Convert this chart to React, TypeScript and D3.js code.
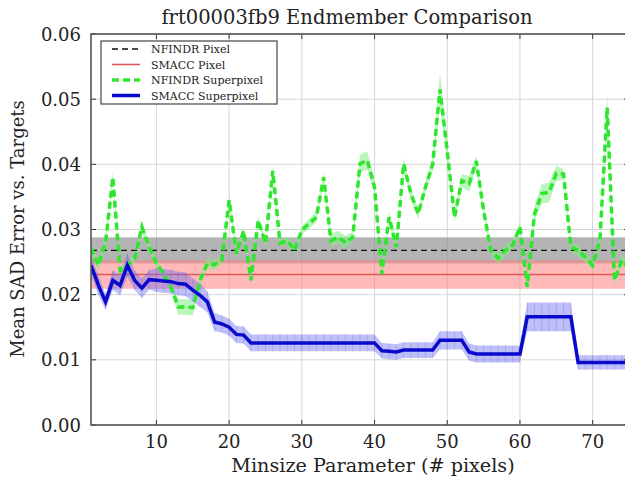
import React from 'react'
import { scaleLinear, line, area, range, format } from 'd3'

// minsize parameter 1..75
const minsize = range(1, 76)

// NFINDR superpixel mean SAD and spread
const nfindrSuper = [
  0.0272, 0.0245, 0.028, 0.038, 0.0237, 0.0245, 0.0255, 0.0304, 0.0273, 0.0248,
  0.0232, 0.0212, 0.0181, 0.0181, 0.018, 0.0222, 0.0248, 0.0246, 0.0253, 0.0345,
  0.0263, 0.0298, 0.0222, 0.0314, 0.0279, 0.039, 0.0279, 0.0283, 0.0268, 0.0299,
  0.0309, 0.0319, 0.038, 0.0283, 0.0288, 0.028, 0.0288, 0.0401, 0.0406, 0.0365,
  0.0232, 0.0319, 0.0273, 0.0401, 0.0355, 0.0324, 0.0365, 0.04, 0.0515, 0.042,
  0.0319, 0.0375, 0.037, 0.0405, 0.0329, 0.0268, 0.0256, 0.0268, 0.0276, 0.0304,
  0.0212, 0.0324, 0.0355, 0.0357, 0.0386, 0.0385, 0.0273, 0.0268, 0.0258, 0.0245,
  0.0283, 0.0487, 0.0222, 0.0253, 0.024,
]
const nfindrSuperErr = [
  0.001, 0.0008, 0.0008, 0.0008, 0.0006, 0.0006, 0.0006, 0.0008, 0.0006, 0.0006,
  0.0006, 0.0006, 0.0012, 0.0012, 0.0012, 0.0008, 0.0008, 0.0008, 0.0006, 0.0008,
  0.0006, 0.0006, 0.0008, 0.0006, 0.0006, 0.0008, 0.0006, 0.0006, 0.0006, 0.0006,
  0.0008, 0.0008, 0.0008, 0.001, 0.001, 0.001, 0.0008, 0.0014, 0.0014, 0.001,
  0.0008, 0.0008, 0.0008, 0.0008, 0.0008, 0.0008, 0.0008, 0.001, 0.0025, 0.0015,
  0.0008, 0.001, 0.0012, 0.0008, 0.0008, 0.0008, 0.0008, 0.0008, 0.0008, 0.0008,
  0.0008, 0.0012, 0.0015, 0.0015, 0.0012, 0.0008, 0.0008, 0.0008, 0.0008, 0.0008,
  0.0008, 0.002, 0.0008, 0.0008, 0.0008,
]

// SMACC superpixel mean SAD and spread
const smaccSuper = [
  0.0245, 0.0215, 0.0189, 0.0222, 0.0214, 0.0245, 0.0222, 0.021, 0.0223, 0.0222,
  0.0221, 0.022, 0.0217, 0.0216, 0.0207, 0.0199, 0.0189, 0.0158, 0.0155, 0.015,
  0.0139, 0.0138, 0.0126, 0.0126, 0.0126, 0.0126, 0.0126, 0.0126, 0.0126, 0.0126,
  0.0126, 0.0126, 0.0126, 0.0126, 0.0126, 0.0126, 0.0126, 0.0126, 0.0126, 0.0126,
  0.0114, 0.0113, 0.0112, 0.0115, 0.0115, 0.0115, 0.0115, 0.0115, 0.013, 0.013,
  0.013, 0.013, 0.0112, 0.0109, 0.0109, 0.0109, 0.0109, 0.0109, 0.0109, 0.0109,
  0.0166, 0.0166, 0.0166, 0.0166, 0.0166, 0.0166, 0.0166, 0.0096, 0.0096, 0.0096,
  0.0096, 0.0096, 0.0096, 0.0096, 0.0096,
]
const smaccSuperErr = [
  0.0015, 0.0015, 0.0012, 0.0015, 0.0015, 0.0018, 0.0015, 0.0015, 0.0015, 0.0018,
  0.0018, 0.0018, 0.0018, 0.0018, 0.0018, 0.0018, 0.0016, 0.0014, 0.0013, 0.0013,
  0.0013, 0.0013, 0.0013, 0.0013, 0.0013, 0.0013, 0.0013, 0.0013, 0.0013, 0.0013,
  0.0013, 0.0013, 0.0013, 0.0013, 0.0013, 0.0013, 0.0013, 0.0013, 0.0013, 0.0013,
  0.0012, 0.0012, 0.0012, 0.0012, 0.0012, 0.0012, 0.0012, 0.0012, 0.0014, 0.0014,
  0.0014, 0.0014, 0.0013, 0.0013, 0.0013, 0.0013, 0.0013, 0.0013, 0.0013, 0.0013,
  0.0022, 0.0022, 0.0022, 0.0022, 0.0022, 0.0022, 0.0022, 0.0011, 0.0011, 0.0011,
  0.0011, 0.0011, 0.0011, 0.0011, 0.0011,
]

// pixel-level baselines
const nfindrPixel = { mean: 0.0268, err: 0.002 }
const smaccPixel = { mean: 0.0231, err: 0.0022 }

const xTicks = [10, 20, 30, 40, 50, 60, 70]
const yTicks = [0, 0.01, 0.02, 0.03, 0.04, 0.05, 0.06]
const legendLabels = ['NFINDR Pixel', 'SMACC Pixel', 'NFINDR Superpixel', 'SMACC Superpixel']

const W = 625, H = 478
const L = 91, T = 34, R = 629, B = 425
const FONT = '"DejaVu Serif", serif'

function App() {
  const x = scaleLinear().domain([1, 75]).range([L, R])
  const y = scaleLinear().domain([0, 0.06]).range([B, T])
  const fmt = format('.2f')

  const idx = minsize.map((_, i) => i)
  const bandOf = (m: number[], e: number[]) =>
    area<number>().x(i => x(minsize[i])).y0(i => y(m[i] - e[i])).y1(i => y(m[i] + e[i]))(idx) || ''
  const lineOf = (m: number[]) => line<number>().x(i => x(minsize[i])).y(i => y(m[i]))(idx) || ''

  const legendStyles = [
    { stroke: '#111', width: 1.3, dash: '6,4' },
    { stroke: '#e05a5a', width: 1.6, dash: undefined },
    { stroke: '#2ee62e', width: 3.5, dash: '7,4' },
    { stroke: '#0a0acc', width: 3.5, dash: undefined },
  ]

  return (
    <svg width={W} height={H} style={{ position: 'absolute', left: 0, top: 0, background: '#fff' }}>
      <defs>
        <clipPath id="plot">
          <rect x={L} y={T} width={R - L} height={B - T} />
        </clipPath>
      </defs>

      {/* grid */}
      {xTicks.map(t => (
        <line key={'gx' + t} x1={x(t)} x2={x(t)} y1={T} y2={B} stroke="#d6d6d6" strokeWidth={1} />
      ))}
      {yTicks.map(t => (
        <line key={'gy' + t} x1={L} x2={R} y1={y(t)} y2={y(t)} stroke="#d6d6d6" strokeWidth={1} />
      ))}

      <g clipPath="url(#plot)">
        {/* pixel baselines */}
        <rect x={L} width={R - L} y={y(nfindrPixel.mean + nfindrPixel.err)}
          height={y(nfindrPixel.mean - nfindrPixel.err) - y(nfindrPixel.mean + nfindrPixel.err)}
          fill="#8c8c8c" opacity={0.65} />
        <rect x={L} width={R - L} y={y(smaccPixel.mean + smaccPixel.err)}
          height={y(smaccPixel.mean - smaccPixel.err) - y(smaccPixel.mean + smaccPixel.err)}
          fill="#ff8080" opacity={0.55} />
        <line x1={L} x2={R} y1={y(smaccPixel.mean)} y2={y(smaccPixel.mean)} stroke="#e05a5a" strokeWidth={1.6} />

        {/* superpixel bands */}
        <path d={bandOf(nfindrSuper, nfindrSuperErr)} fill="#7fee7f" opacity={0.55} />
        <path d={bandOf(smaccSuper, smaccSuperErr)} fill="#6a6aee" opacity={0.42} />
        {idx.map(i => (
          <line key={'bs' + i} x1={x(minsize[i])} x2={x(minsize[i])}
            y1={y(smaccSuper[i] - smaccSuperErr[i])} y2={y(smaccSuper[i] + smaccSuperErr[i])}
            stroke="#5a5ae0" strokeWidth={1} opacity={0.25} />
        ))}

        <line x1={L} x2={R} y1={y(nfindrPixel.mean)} y2={y(nfindrPixel.mean)}
          stroke="#111" strokeWidth={1.3} strokeDasharray="6,4" />

        <path d={lineOf(nfindrSuper)} fill="none" stroke="#2ee62e" strokeWidth={3.5} strokeDasharray="7,4" />
        <path d={lineOf(smaccSuper)} fill="none" stroke="#0a0acc" strokeWidth={3.5} strokeLinejoin="miter" />
      </g>

      {/* ticks */}
      {xTicks.map(t => (
        <g key={'tx' + t}>
          <line x1={x(t)} x2={x(t)} y1={B} y2={B - 5} stroke="#333" />
          <line x1={x(t)} x2={x(t)} y1={T} y2={T + 5} stroke="#333" />
          <text x={x(t)} y={448} textAnchor="middle" fontFamily={FONT} fontSize={18} fill="#222">{t}</text>
        </g>
      ))}
      {yTicks.map(t => (
        <g key={'ty' + t}>
          <line x1={L} x2={L + 5} y1={y(t)} y2={y(t)} stroke="#333" />
          <line x1={R} x2={R - 5} y1={y(t)} y2={y(t)} stroke="#333" />
          <text x={81} y={y(t) + 6.5} textAnchor="end" fontFamily={FONT} fontSize={18} fill="#222">{fmt(t)}</text>
        </g>
      ))}

      {/* spines */}
      <rect x={L} y={T} width={R - L} height={B - T} fill="none" stroke="#555" strokeWidth={1.6} />

      {/* legend */}
      <rect x={101} y={41} width={176} height={63} fill="#fff" stroke="#444" strokeWidth={1.2} />
      {legendLabels.map((lab, i) => {
        const ly = 49 + i * 15.5
        const s = legendStyles[i]
        return (
          <g key={lab}>
            <line x1={112} x2={140} y1={ly} y2={ly} stroke={s.stroke} strokeWidth={s.width} strokeDasharray={s.dash} />
            <text x={151} y={ly + 4} fontFamily={FONT} fontSize={11} fill="#222">{lab}</text>
          </g>
        )
      })}

      {/* titles */}
      <text x={347} y={24} textAnchor="middle" fontFamily={FONT} fontSize={19.5} fill="#222">
        frt00003fb9 Endmember Comparison
      </text>
      <text x={373} y={472} textAnchor="middle" fontFamily={FONT} fontSize={19.2} fill="#222">
        Minsize Parameter (# pixels)
      </text>
      <text transform="translate(24,229) rotate(-90)" textAnchor="middle" fontFamily={FONT} fontSize={18} fill="#222">
        Mean SAD Error vs. Targets
      </text>
    </svg>
  )
}

export default App
